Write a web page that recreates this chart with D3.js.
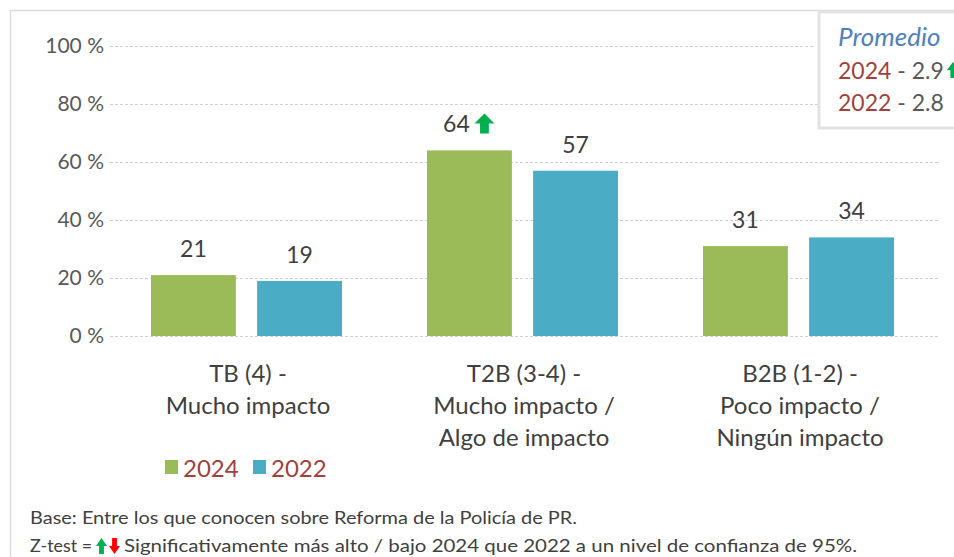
<!DOCTYPE html>
<html><head><meta charset="utf-8">
<script src="https://cdn.jsdelivr.net/npm/d3@7"></script>
<style>body{margin:0;background:#fff}svg{display:block}text{font-family:Lato,"Open Sans",sans-serif}</style>
</head><body>
<svg id="c" width="954" height="557"></svg>
<script>
const categories = [["TB (4) -","Mucho impacto"],["T2B (3-4) -","Mucho impacto /","Algo de impacto"],["B2B (1-2) -","Poco impacto /","Ningún impacto"]];
const seriesNames = ["2024","2022"];
const values2024 = [21,64,31];
const values2022 = [19,57,34];
const sig2024 = [null,"up",null];
const yTicks = [0,20,40,60,80,100];
const colors = ["#9BBB59","#4BACC6"];
const promedio = [["2024","2.9","up"],["2022","2.8",null]];

const svg = d3.select("#c");
const M = {l:110, r:938, t:46, b:336};
const x0 = d3.scaleBand().domain(d3.range(3)).range([M.l,M.r]).paddingInner(0).paddingOuter(0);
const x1 = d3.scaleBand().domain([0,1]).range([41,232]).paddingInner(0.2);
const y = d3.scaleLinear().domain([0,100]).range([M.b,M.t]);

// frame
svg.append("path").attr("d","M10.5,557 V10.5 H954").attr("fill","none").attr("stroke","#D9D9D9").attr("stroke-width",1.5);

// grid
const grid = svg.append("g");
yTicks.forEach(t=>{
  grid.append("line").attr("x1",M.l).attr("x2", t===100?815:M.r).attr("y1",Math.round(y(t))+0.5).attr("y2",Math.round(y(t))+0.5)
    .attr("stroke", "#D0D0D0").attr("stroke-dasharray","3,2").attr("stroke-width",1);
});
const yAxis = d3.axisLeft(y).tickValues(yTicks).tickSize(0).tickPadding(6).tickFormat(d=>d+" %");
svg.append("g").attr("transform",`translate(${M.l},0)`).call(yAxis)
  .call(g=>g.select(".domain").remove())
  .selectAll("text").attr("font-size",21).attr("fill","#595959").attr("font-family","Lato,sans-serif");

// bars
const data = categories.map((c,i)=>({i, vals:[values2024[i],values2022[i]]}));
const gg = svg.append("g").selectAll("g").data(data).join("g").attr("transform",d=>`translate(${x0(d.i)},0)`);
gg.selectAll("rect").data(d=>d.vals.map((v,k)=>({v,k}))).join("rect")
  .attr("x",d=>x1(d.k)).attr("width",x1.bandwidth()).attr("y",d=>y(d.v)).attr("height",d=>y(0)-y(d.v)).attr("fill",d=>colors[d.k]);

function arrow(g, cx, top, dir, w, h){
  const hw=w/2, sw=w*0.22, hh=h*0.5;
  let p;
  if(dir==="up") p=`M${cx},${top} L${cx+hw},${top+hh} L${cx+sw},${top+hh} L${cx+sw},${top+h} L${cx-sw},${top+h} L${cx-sw},${top+hh} L${cx-hw},${top+hh} Z`;
  else p=`M${cx},${top+h} L${cx+hw},${top+h-hh} L${cx+sw},${top+h-hh} L${cx+sw},${top} L${cx-sw},${top} L${cx-sw},${top+h-hh} L${cx-hw},${top+h-hh} Z`;
  g.append("path").attr("d",p).attr("fill",dir==="up"?"#00B050":"#FF0000");
}

gg.each(function(d){
  const g=d3.select(this);
  d.vals.forEach((v,k)=>{
    const cx = x1(k)+x1.bandwidth()/2;
    const s = k===0 ? sig2024[d.i] : null;
    const t = g.append("text").attr("y",y(v)-18).attr("font-size",23).attr("fill","#404040").text(v);
    if(s){
      t.attr("x",cx-13).attr("text-anchor","middle");
      arrow(g, cx+15, y(v)-37, s, 20, 20);
    } else t.attr("x",cx).attr("text-anchor","middle");
  });
  categories[d.i].forEach((line,j)=>{
    g.append("text").attr("x",x0.bandwidth()/2).attr("y",382+j*32).attr("text-anchor","middle")
      .attr("font-size",24).attr("fill","#404040").text(line);
  });
});

// legend
const lg = svg.append("g");
[[165,183],[253,271]].forEach(([sx,tx],k)=>{
  lg.append("rect").attr("x",sx).attr("y",460).attr("width",13).attr("height",14).attr("fill",colors[k]);
  lg.append("text").attr("x",tx).attr("y",477).attr("font-size",24).attr("fill","#A0413E").text(seriesNames[k]);
});

// promedio box
const pb = svg.append("g");
pb.append("rect").attr("x",819).attr("y",12).attr("width",150).attr("height",116).attr("fill","#fff").attr("stroke","#E3E3E3").attr("stroke-width",3);
pb.append("text").attr("x",838).attr("y",46).attr("font-size",26).attr("font-style","italic").attr("fill","#4F81BD").text("Promedio");
promedio.forEach((p,i)=>{
  const t = pb.append("text").attr("x",838).attr("y",79+i*32).attr("font-size",23);
  t.append("tspan").attr("fill","#A0413E").text(p[0]);
  t.append("tspan").attr("fill","#595959").text(" - "+p[1]);
  if(p[2]) arrow(pb, 953, 62+i*32, p[2], 12, 16);
});

// footnotes
const fn = svg.append("g").attr("font-size",17).attr("fill","#404040").attr("font-family","'Liberation Sans Narrow','Open Sans',sans-serif");
fn.append("text").attr("x",30).attr("y",524).attr("textLength",547).attr("lengthAdjust","spacingAndGlyphs").text("Base: Entre los que conocen sobre Reforma de la Policía de PR.");
fn.append("text").attr("x",30).attr("y",552).attr("textLength",62).attr("lengthAdjust","spacingAndGlyphs").text("Z-test =");
arrow(fn, 101.5, 538, "up", 11, 16);
arrow(fn, 114.5, 538, "down", 11, 16);
fn.append("text").attr("x",124).attr("y",552).attr("textLength",733).attr("lengthAdjust","spacingAndGlyphs").text("Significativamente más alto / bajo 2024 que 2022 a un nivel de confianza de 95%.");
</script>
</body></html>
